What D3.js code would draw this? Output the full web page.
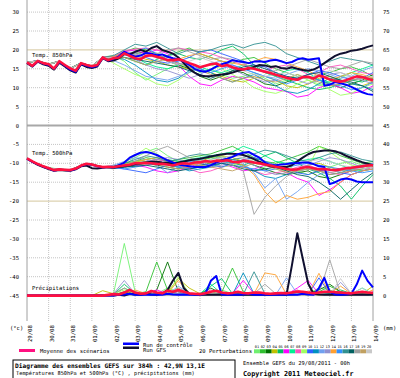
<!DOCTYPE html>
<html><head><meta charset="utf-8">
<script src="https://cdn.jsdelivr.net/npm/d3@7"></script>
<style>body{margin:0;background:#fff}svg{display:block}text{font-family:"DejaVu Sans Mono",monospace}</style>
</head><body>
<svg id="c" width="400" height="378"></svg>
<script>
// ---------- DATA ----------
const dates = ["29/08","30/08","31/08","01/09","02/09","03/09","04/09","05/09","06/09","07/09","08/09","09/09","10/09","11/09","12/09","13/09","14/09"];
const leftTicks = [30,25,20,15,10,5,0,-5,-10,-15,-20,-25,-30,-35,-40,-45];
const rightTicks = [75,70,65,60,55,50,45,40,35,30,25,20,15,10,5,0];
const pertNames = ["01","02","03","04","05","06","07","08","09","10","11","12","13","14","15","16","17","18","19","20"];
const pertColors = ["#70f070","#30c030","#007000","#c0c000","#00c060","#ff00ff","#00f090","#ff50c0","#a0ff60","#3060ff","#0090c0","#70a0f0","#9090d0","#ffa030","#3090ff","#309090","#006060","#a0a0a0","#c0a060","#c8c8c8"];

// 6-hourly main runs (h0..h384)
const t850Mean = [16.7,15.8,17.1,16.5,16.2,15.1,17.0,16.0,15.1,14.5,16.5,16.0,15.7,16.0,18.0,17.3,17.8,
 18.0,19.1,18.4,17.8,17.5,18.4,18.6,18.2,17.8,17.3,17.3,17.5,17.1,16.5,16.0,
 15.4,15.8,16.2,16.4,15.7,16.0,15.4,15.0,14.8,15.2,15.0,14.6,14.2,13.9,13.4,13.0,12.6,12.3,12.1,12.8,12.9,12.4,13.2,12.8,12.2,11.8,11.6,12.0,12.5,13.0,12.8,12.4,12.0];
const t850Gfs = [16.5,15.6,16.9,16.2,15.8,14.8,16.6,15.6,14.6,14.0,16.2,15.5,15.2,15.6,17.8,17.0,17.2,
 17.8,19.0,18.8,19.5,20.0,19.5,20.5,21.0,20.0,19.5,19.0,18.0,16.5,15.0,14.0,
 13.2,13.0,13.1,13.3,13.5,13.6,14.0,14.5,14.8,15.0,15.5,16.0,15.9,15.5,15.7,15.2,15.0,15.4,15.0,14.7,14.5,14.8,15.5,16.5,17.5,18.4,19.0,19.3,19.8,20.0,20.3,20.8,21.2];
const t850Ctrl = [16.6,15.7,17.0,16.4,16.0,15.0,16.8,15.8,14.8,14.2,16.3,15.8,15.4,15.8,17.9,17.2,17.6,
 18.3,19.5,18.8,18.2,18.5,19.2,19.0,18.6,18.8,18.2,17.8,17.5,17.0,16.0,15.0,
 14.4,14.2,14.8,15.6,16.2,16.6,17.3,17.0,16.8,16.5,16.9,17.0,16.8,17.2,17.4,17.0,16.5,16.8,17.5,17.8,17.4,17.6,17.8,10.5,10.8,11.5,11.2,10.8,10.2,9.5,8.8,8.3,8.1];

const t500Mean = [-8.7,-9.5,-10.2,-10.8,-11.3,-11.8,-11.6,-11.7,-11.8,-11.4,-10.6,-10.1,-10.3,-10.7,-11.0,-10.9,-11.0,
 -10.8,-10.6,-10.4,-10.0,-10.0,-9.9,-10.0,-10.2,-10.1,-10.3,-10.6,-10.2,-10.0,-10.1,-9.8,-9.7,
 -9.4,-9.6,-9.3,-9.4,-9.2,-9.6,-9.7,-9.3,-9.5,-9.8,-10.0,-10.3,-10.6,-10.9,-11.2,-11.5,-11.7,-11.6,-11.2,-11.0,-11.3,-11.6,-11.5,-11.7,-11.8,-11.6,-11.3,-11.2,-11.0,-10.8,-10.6,-10.5];
const t500Gfs = [-8.7,-9.6,-10.4,-11.0,-11.5,-12.0,-11.8,-11.9,-12.0,-11.6,-10.8,-10.6,-11.3,-11.4,-11.2,-11.0,-11.2,
 -11.0,-10.7,-10.5,-10.2,-10.0,-9.8,-9.6,-9.6,-9.8,-9.9,-10.0,-9.8,-9.5,-9.2,-9.0,
 -8.8,-8.5,-8.2,-7.9,-7.7,-7.5,-7.5,-7.6,-7.8,-8.3,-8.9,-9.6,-10.2,-10.8,-11.0,-11.0,-11.0,-10.5,-9.5,-8.5,-7.6,-7.0,-6.8,-6.6,-6.6,-6.8,-7.3,-8.0,-8.6,-9.2,-9.7,-10.1,-10.5];
const t500Ctrl = [-8.8,-9.6,-10.3,-10.9,-11.4,-11.9,-11.7,-11.8,-11.9,-11.5,-10.7,-10.2,-10.4,-10.8,-11.1,-11.0,-11.1,
 -10.5,-9.8,-8.5,-7.8,-7.2,-7.0,-7.3,-7.8,-8.5,-9.2,-9.8,-10.3,-10.6,-10.8,-11.0,
 -11.0,-11.0,-10.5,-9.8,-9.2,-8.8,-8.3,-7.6,-7.2,-7.0,-7.8,-8.5,-9.8,-10.5,-10.5,-10.3,-10.2,-10.0,-10.0,-9.8,-9.8,-10.2,-10.8,-11.0,-15.5,-15.0,-14.3,-14.0,-14.3,-14.8,-15.0,-15.0,-15.0];

const rrMean = [0,0,0,0,0,0,0,0,0,0,0,0,0,0,0,
 0.2,0.4,0.3,0.8,1.5,0.8,0.5,0.6,1.2,0.8,0.6,1.3,1.0,1.5,1.0,0.6,0.5,0.4,0.6,1.0,
 1.3,0.8,0.6,0.7,1.0,0.7,0.6,0.8,0.8,0.6,0.5,0.6,0.7,0.6,0.8,1.1,1.0,0.8,0.6,0.8,
 1.0,1.0,0.9,0.8,0.7,0.6,0.8,1.0,0.8,0.7];
const rrGfs = [0,0,0,0,0,0,0,0,0,0,0,0,0,0,0,
 0,0,0.2,0,0.5,0.3,0.2,0.5,0.3,0.2,0.5,1.5,4.0,6.0,2.0,0.5,0.3,0.2,0.3,0.2,
 0.2,0.3,0.2,0.2,0.3,0.2,0.2,0.3,0.2,0.2,0.2,0.3,0.3,0.2,8.0,16.5,9.8,3.2,0.5,0.3,
 0.2,0.3,0.2,0.3,0.2,0.3,0.2,0.3,0.2,0.3];
const rrCtrl = [0,0,0,0,0,0,0,0,0,0,0,0,0,0,0,
 0,0,0.2,0.3,0.5,0.2,0.3,0.2,0.2,0.3,0.2,0.5,0.3,0.2,0.3,0.2,0.3,0.2,0.5,3.9,
 5.2,0.3,0.2,0.3,0.2,0.3,0.5,0.2,0.3,0.2,0.3,0.2,0.3,0.2,0.3,0.2,0.5,0.3,0.2,2.0,
 4.7,1.0,0.3,0.2,0.3,0.5,3.0,6.6,3.9,2.2];

// 12-hourly perturbations (h0..h384)
const t850Pert = [
 [16.8,17.0,16.3,17.1,15.0,16.4,15.8,18.1,18.5,17.0,14.0,12.0,13.5,15.0,16.0,15.5,14.0,15.0,13.5,12.5,13.0,14.0,12.5,11.0,12.0,13.5,12.0,10.5,11.5,12.5,14.0,13.0,12.5],
 [16.6,17.2,16.2,16.9,15.2,16.6,15.6,17.9,18.2,19.5,20.5,20.0,19.0,18.5,19.5,20.5,19.0,18.0,17.0,16.5,17.5,18.0,16.5,15.0,14.0,13.0,12.5,13.5,14.0,15.0,15.5,14.5,13.0],
 [16.7,17.1,16.1,17.0,15.1,16.5,15.7,18.0,17.6,18.5,19.0,19.5,18.0,17.0,16.0,15.0,13.0,12.0,13.0,14.5,14.0,12.5,11.0,10.5,11.5,12.5,13.0,12.0,11.0,10.0,11.0,12.0,13.5],
 [16.7,17.0,16.3,17.0,15.1,16.5,15.8,18.0,17.8,19.0,18.5,17.5,17.0,16.0,15.5,15.0,14.5,14.0,13.0,12.0,11.5,12.5,13.0,12.0,10.5,10.0,11.0,12.5,13.0,12.0,11.0,10.5,11.5],
 [16.7,17.1,16.2,17.0,15.1,16.5,15.7,18.0,17.5,18.0,17.0,16.0,17.5,18.5,19.0,18.0,17.5,18.5,20.0,21.0,19.0,16.0,14.0,13.0,12.0,11.0,10.0,9.5,10.0,11.0,12.0,11.5,12.5],
 [16.8,17.1,16.2,17.1,15.0,16.5,15.7,18.1,18.0,19.5,20.0,19.0,20.0,19.0,16.0,13.0,11.0,10.5,12.0,13.0,12.5,11.5,10.0,9.5,9.0,7.5,8.0,10.0,11.0,10.0,8.5,9.0,10.5],
 [16.7,17.1,16.2,17.0,15.1,16.5,15.7,18.0,18.0,19.0,18.0,16.5,15.5,15.0,16.0,16.5,15.5,14.5,14.0,15.0,16.0,15.5,14.0,13.0,14.5,15.0,14.0,12.0,11.5,13.0,14.0,15.0,16.0],
 [16.6,17.1,16.2,17.0,15.1,16.5,15.7,18.0,18.3,19.8,20.2,20.5,20.0,19.5,20.5,20.0,19.5,19.0,18.0,17.0,16.0,15.0,14.5,15.5,16.0,15.0,13.5,14.0,15.5,16.0,15.0,14.0,13.5],
 [16.7,17.1,16.2,17.0,15.2,16.5,15.7,18.0,16.5,15.0,13.5,12.5,11.0,10.5,12.0,14.0,15.5,16.0,15.0,13.5,12.0,10.0,9.0,8.5,9.5,11.0,12.0,11.0,9.5,8.0,8.5,10.0,11.0],
 [16.7,17.1,16.2,17.0,15.1,16.5,15.7,18.0,17.5,18.5,19.0,18.0,17.0,16.5,17.0,18.0,19.5,20.0,19.0,18.0,17.0,16.0,15.5,14.0,13.0,12.5,13.5,14.5,14.0,13.0,12.0,12.5,14.0],
 [16.7,17.1,16.2,17.0,15.1,16.5,15.7,18.0,18.0,17.5,16.0,14.0,12.0,11.5,12.5,14.5,15.0,14.0,12.5,11.5,12.5,13.5,12.0,10.5,9.0,8.5,9.5,11.0,12.5,12.0,11.0,10.5,9.5],
 [16.7,17.1,16.2,17.0,15.1,16.5,15.7,18.0,17.2,16.0,14.5,13.0,12.5,12.0,13.0,14.0,15.0,16.5,17.0,16.0,15.0,14.0,13.0,12.5,13.5,14.5,15.0,14.5,13.5,12.5,13.0,14.5,15.5],
 [16.7,17.1,16.2,17.0,15.1,16.5,15.7,18.0,18.0,19.0,17.5,16.0,15.0,14.5,13.5,12.5,13.5,15.0,16.0,15.0,13.5,12.5,11.5,12.0,13.0,12.0,11.0,12.0,13.5,14.0,13.0,12.0,11.0],
 [16.7,17.1,16.2,17.0,15.1,16.5,15.7,18.0,18.2,19.2,18.5,19.0,18.5,18.0,17.5,18.5,19.0,18.0,17.0,16.5,16.0,17.0,18.0,17.5,16.5,15.5,14.5,13.0,12.0,13.0,14.0,13.5,12.5],
 [16.7,17.1,16.2,17.0,15.1,16.5,15.7,18.0,17.8,18.8,19.5,20.5,19.0,17.5,16.5,16.0,15.0,14.0,15.0,16.0,15.0,14.0,13.0,12.0,11.0,12.0,13.0,12.0,11.0,10.5,9.5,10.0,11.5],
 [16.7,17.1,16.2,17.0,15.1,16.5,15.7,18.0,18.5,20.0,21.5,21.0,22.0,20.5,19.0,20.0,19.5,20.0,21.0,21.5,20.5,21.5,22.0,21.0,19.0,18.0,17.0,16.0,17.0,18.0,17.5,17.0,16.0],
 [16.7,17.1,16.2,17.0,15.1,16.5,15.7,18.0,17.6,18.0,17.5,17.0,16.5,16.0,15.5,14.5,13.5,12.5,13.5,14.5,15.5,16.0,15.0,14.0,13.0,12.5,13.5,14.0,13.0,12.0,11.5,10.5,9.0],
 [16.7,17.1,16.2,17.0,15.1,16.5,15.7,18.0,18.0,19.0,19.5,18.5,19.0,20.0,20.5,19.5,18.5,17.5,18.0,17.5,16.5,15.0,14.0,14.5,15.5,16.5,17.5,16.5,15.5,15.0,16.0,17.0,16.5],
 [16.7,17.1,16.2,17.0,15.1,16.5,15.7,18.0,17.5,18.0,17.0,16.0,17.0,17.5,16.5,15.5,14.5,13.5,12.5,11.5,12.5,13.0,12.0,11.5,12.5,13.5,12.5,11.5,10.5,11.0,12.0,12.5,11.5],
 [16.7,17.1,16.2,17.0,15.1,16.5,15.7,18.0,18.0,18.5,19.0,18.5,18.0,17.0,16.0,17.0,18.0,17.0,16.0,15.5,14.5,13.5,13.0,13.5,14.0,13.0,12.5,13.5,14.5,14.0,13.0,12.5,13.0]
];
const t500Pert = [
 [-8.7,-10.2,-11.4,-11.7,-11.9,-10.7,-10.4,-11.1,-11.3,-10.5,-8.5,-7.0,-6.0,-8.0,-9.5,-10.5,-10.0,-9.0,-8.0,-9.5,-11.0,-12.0,-11.0,-9.5,-10.5,-12.0,-13.0,-12.0,-11.0,-10.0,-9.5,-10.5,-11.0],
 [-8.7,-10.1,-11.2,-11.5,-11.7,-10.5,-10.2,-10.9,-10.8,-10.0,-9.5,-8.5,-9.0,-9.5,-9.0,-8.5,-8.0,-7.5,-6.5,-5.5,-7.0,-8.5,-9.5,-10.0,-9.0,-8.0,-7.0,-5.5,-6.5,-8.0,-9.0,-10.0,-9.5],
 [-8.7,-10.2,-11.3,-11.6,-11.8,-10.6,-10.3,-11.0,-11.2,-11.0,-10.5,-10.0,-10.5,-11.0,-11.5,-11.0,-10.5,-10.0,-9.5,-9.0,-9.5,-10.5,-11.5,-12.5,-13.0,-12.5,-12.0,-13.5,-14.0,-13.0,-12.0,-11.5,-11.0],
 [-8.7,-10.2,-11.3,-11.6,-11.8,-10.6,-10.3,-11.0,-10.8,-10.2,-9.8,-9.0,-9.5,-10.5,-11.0,-10.5,-9.5,-8.5,-8.0,-8.5,-9.5,-10.0,-10.5,-11.0,-12.0,-11.5,-10.5,-10.0,-11.0,-12.0,-11.5,-10.5,-10.0],
 [-8.7,-10.2,-11.3,-11.6,-11.8,-10.6,-10.3,-11.0,-11.0,-10.5,-10.0,-9.5,-10.0,-10.5,-11.0,-10.0,-9.0,-8.5,-9.0,-10.0,-10.5,-9.5,-8.0,-7.0,-8.5,-10.0,-11.5,-12.5,-14.0,-16.0,-19.5,-16.0,-13.0],
 [-8.7,-10.2,-11.3,-11.6,-11.8,-10.6,-10.3,-11.0,-11.1,-10.8,-10.5,-11.0,-12.0,-12.5,-12.0,-11.0,-10.0,-9.5,-10.0,-11.0,-12.0,-11.5,-10.5,-11.0,-12.5,-14.0,-15.0,-18.5,-17.0,-15.0,-13.0,-12.0,-11.0],
 [-8.7,-10.2,-11.3,-11.6,-11.8,-10.6,-10.3,-11.0,-10.8,-10.2,-9.5,-9.0,-8.5,-9.0,-9.5,-9.0,-8.5,-8.0,-7.5,-7.0,-5.5,-6.5,-8.0,-9.5,-10.0,-9.5,-9.0,-8.5,-9.5,-10.5,-11.5,-12.0,-11.5],
 [-8.7,-10.2,-11.3,-11.6,-11.8,-10.6,-10.3,-11.0,-11.0,-10.8,-10.3,-9.5,-9.0,-9.5,-10.5,-11.5,-12.5,-12.0,-11.0,-10.5,-11.0,-12.0,-13.0,-12.5,-12.0,-11.0,-10.5,-11.5,-12.5,-13.0,-12.0,-11.0,-10.5],
 [-8.7,-10.2,-11.3,-11.6,-11.8,-10.6,-10.3,-11.0,-11.5,-10.0,-8.0,-6.0,-7.5,-9.5,-10.0,-9.5,-9.0,-10.0,-11.0,-10.5,-9.5,-9.0,-10.0,-11.5,-12.0,-11.5,-11.0,-5.5,-7.0,-9.0,-10.5,-11.0,-10.5],
 [-8.7,-10.2,-11.3,-11.6,-11.8,-10.6,-10.3,-11.0,-11.0,-11.5,-12.0,-12.5,-11.5,-10.5,-10.0,-9.5,-10.0,-10.5,-11.0,-10.0,-9.0,-8.5,-9.5,-10.5,-11.5,-12.5,-13.0,-12.0,-11.5,-12.5,-13.0,-12.0,-11.5],
 [-8.7,-10.2,-11.3,-11.6,-11.8,-10.6,-10.3,-11.0,-11.3,-11.0,-10.5,-10.0,-9.5,-10.0,-11.0,-12.0,-11.5,-11.0,-10.0,-9.5,-10.5,-12.0,-13.5,-14.0,-13.0,-12.0,-11.5,-12.0,-13.0,-12.5,-11.5,-11.0,-10.0],
 [-8.7,-10.2,-11.3,-11.6,-11.8,-10.6,-10.3,-11.0,-10.5,-9.5,-8.5,-9.0,-10.5,-12.5,-11.0,-9.5,-9.0,-9.5,-10.0,-9.0,-10.0,-12.5,-16.5,-14.0,-19.5,-17.5,-15.0,-13.0,-12.0,-11.5,-11.0,-10.5,-10.0],
 [-8.7,-10.2,-11.3,-11.6,-11.8,-10.6,-10.3,-11.0,-11.0,-10.5,-10.0,-9.5,-9.0,-8.5,-9.0,-10.0,-10.5,-11.0,-10.5,-10.0,-9.5,-10.5,-12.0,-13.0,-12.5,-11.5,-10.5,-9.5,-8.5,-9.0,-10.0,-11.0,-10.5],
 [-8.7,-10.2,-11.3,-11.6,-11.8,-10.6,-10.3,-11.0,-10.9,-10.2,-9.6,-9.0,-8.5,-9.0,-10.0,-10.5,-10.0,-9.5,-9.0,-9.5,-10.5,-13.0,-17.5,-20.5,-18.5,-19.5,-19.0,-18.0,-17.5,-15.0,-13.0,-12.0,-11.5],
 [-8.7,-10.2,-11.3,-11.6,-11.8,-10.6,-10.3,-11.0,-11.2,-11.5,-11.0,-10.5,-10.0,-10.5,-11.0,-11.5,-11.0,-10.5,-10.0,-10.5,-11.0,-11.5,-12.0,-11.5,-11.0,-10.5,-10.0,-10.5,-11.0,-11.5,-12.0,-12.5,-12.0],
 [-8.7,-10.2,-11.3,-11.6,-11.8,-10.6,-10.3,-11.0,-10.8,-10.0,-9.0,-8.0,-8.5,-9.5,-9.0,-8.0,-7.5,-8.0,-8.5,-9.0,-8.5,-7.5,-6.5,-7.0,-8.0,-9.0,-9.5,-8.5,-7.5,-7.0,-8.0,-9.0,-9.5],
 [-8.7,-10.2,-11.3,-11.6,-11.8,-10.6,-10.3,-11.0,-11.1,-11.0,-10.8,-10.5,-11.0,-11.5,-12.0,-11.5,-11.0,-10.5,-10.0,-10.5,-11.5,-12.0,-11.5,-11.0,-12.0,-13.0,-13.5,-15.0,-17.0,-19.5,-17.0,-14.5,-12.5],
 [-8.7,-10.2,-11.3,-11.6,-11.8,-10.6,-10.3,-11.0,-11.0,-10.5,-9.5,-8.0,-6.5,-5.5,-7.0,-8.5,-9.5,-10.0,-9.5,-10.5,-12.0,-23.5,-19.0,-16.0,-13.5,-12.0,-11.5,-12.0,-12.5,-12.0,-11.5,-11.0,-10.5],
 [-8.7,-10.2,-11.3,-11.6,-11.8,-10.6,-10.3,-11.0,-10.9,-10.6,-10.0,-9.5,-10.0,-11.0,-11.5,-11.0,-10.5,-11.0,-11.5,-12.0,-11.0,-10.0,-10.5,-11.5,-12.5,-12.0,-11.5,-12.0,-13.0,-12.5,-12.0,-11.5,-11.0],
 [-8.7,-10.2,-11.3,-11.6,-11.8,-10.6,-10.3,-11.0,-11.0,-10.7,-10.2,-9.8,-10.2,-10.6,-10.4,-10.0,-9.5,-9.0,-8.5,-8.0,-8.5,-9.5,-10.5,-11.0,-10.5,-10.0,-9.5,-9.0,-9.5,-10.5,-11.0,-11.5,-11.0]
];
const rrPert = [
 [0,0,0,0,0,0,0,0,0.5,13.8,1.0,0.3,0.5,2.0,1.0,0.5,0.3,0.5,1.5,0.5,0.2,0.3,0.5,0.2,0.5,1.0,0.5,2.0,1.5,0.5,0.3,0.5,0.3],
 [0,0,0,0,0,0,0,0,0.3,2.0,0.5,1.0,8.9,1.5,0.5,0.3,0.2,0.5,0.8,7.3,1.0,0.3,0.5,0.2,0.3,0.5,0.2,1.0,2.5,1.0,0.5,0.3,0.2],
 [0,0,0,0,0,0,0,0,0.2,1.0,0.5,0.3,1.5,8.9,1.0,0.2,0.5,2.0,0.5,0.3,0.2,0.3,0.5,0.2,0.2,0.3,0.5,1.5,3.0,1.0,0.5,0.3,0.2],
 [0,0,0,0,0,0,0,1.3,0.5,0.3,0.5,0.3,0.5,1.0,4.5,2.0,0.5,0.3,0.5,0.2,0.3,0.5,0.2,0.3,0.2,0.3,0.5,0.2,0.5,0.3,0.2,0.5,2.5],
 [0,0,0,0,0,0,0,0.2,0.3,3.0,0.5,0.3,0.5,0.3,0.5,0.3,0.2,2.5,4.5,0.5,0.3,0.2,0.5,0.3,0.2,0.5,0.3,0.5,0.3,1.5,0.5,0.3,0.5],
 [0,0,0,0,0,0,0,0,0.2,0.5,0.3,0.5,1.5,0.5,0.3,0.5,0.3,0.5,0.3,0.5,4.0,0.5,0.3,0.2,0.3,2.0,4.0,0.5,0.3,0.5,0.3,0.2,0.5],
 [0,0,0,0,0,0,0,0,0.2,0.3,0.5,0.3,0.5,0.3,0.5,0.3,0.5,3.0,0.5,0.3,0.2,0.3,0.5,0.3,0.2,0.3,0.5,0.3,0.5,0.3,0.5,2.0,0.5],
 [0,0,0,0,0,0,0,0,0.3,0.5,0.3,0.5,0.3,0.5,1.0,0.5,0.3,1.5,0.5,0.3,0.5,0.3,0.2,0.3,0.5,1.5,0.3,0.5,0.3,0.5,0.3,0.5,1.0],
 [0,0,0,0,0,0,0,0,0.5,1.5,0.5,0.3,0.5,0.3,5.0,0.5,0.3,0.5,0.3,0.5,0.3,0.5,0.3,0.2,0.3,0.5,0.3,0.5,0.3,0.5,0.3,0.5,0.3],
 [0,0,0,0,0,0,0,0,0.2,0.5,0.3,0.5,0.3,0.5,0.3,0.5,0.3,0.5,0.3,0.2,0.3,0.5,0.3,0.5,1.0,0.5,0.3,4.7,0.5,0.3,0.5,0.3,0.2],
 [0,0,0,0,0,0,0,0,0.3,0.5,0.3,0.5,0.3,1.0,0.5,0.3,0.5,0.3,0.5,0.3,6.0,0.5,0.3,0.2,0.3,0.5,0.3,0.5,0.3,0.5,0.3,0.5,0.3],
 [0,0,0,0,0,0,0,0,0.2,0.3,0.5,0.3,0.5,0.3,2.5,0.5,0.3,0.5,0.3,0.2,0.5,0.3,0.5,0.2,4.7,0.5,0.3,0.5,0.3,0.2,0.5,0.3,0.2],
 [0,0,0,0,0,0,0,0,0.5,4.0,0.5,0.3,0.5,0.3,0.5,0.3,0.3,0.5,0.3,0.5,0.3,0.2,0.3,0.5,0.3,0.5,0.3,0.5,0.3,3.5,0.5,0.3,0.5],
 [0,0,0,0,0,0,0,0,0.2,0.3,1.5,0.5,0.3,0.5,4.0,0.5,0.3,0.5,0.3,0.5,0.3,0.5,6.0,5.5,0.3,0.5,0.3,5.9,0.5,2.5,0.5,0.3,1.5],
 [0,0,0,0,0,0,0,0,0.3,0.5,0.3,0.5,0.3,0.5,0.3,0.5,0.3,0.5,0.3,0.5,0.3,0.5,0.3,0.5,0.3,0.5,0.3,0.5,0.3,0.5,0.3,0.5,0.3],
 [0,0,0,0,0,0,0,0,0.3,0.5,0.3,0.5,0.3,0.5,0.3,0.5,0.3,0.5,0.3,0.5,0.3,6.3,0.5,0.3,0.5,0.3,0.5,0.3,0.5,0.3,0.5,0.3,0.5],
 [0,0,0,0,0,0,0,0,0.3,0.5,0.3,0.5,0.3,0.5,0.3,0.5,0.3,0.5,0.3,0.5,0.3,0.5,0.3,0.5,0.3,0.5,0.3,0.5,0.3,0.5,0.3,0.5,0.3],
 [0,0,0,0,0,0,0,0,0.5,2.0,0.5,0.3,0.5,0.3,0.5,0.3,0.3,0.5,0.3,0.5,0.3,0.5,3.0,0.5,0.3,0.5,0.3,0.5,9.5,0.5,0.3,0.5,0.3],
 [0,0,0,0,0,0,0,0,0.2,0.3,0.5,0.3,0.5,0.3,2.0,0.5,0.3,0.5,0.3,0.5,0.3,0.5,0.3,0.5,0.3,0.5,0.3,0.5,0.3,0.5,0.3,0.5,0.3],
 [0,0,0,0,0,0,0,0,0.3,0.5,0.3,0.5,0.3,0.5,0.3,0.5,0.3,0.5,0.3,0.5,0.3,0.5,0.3,0.5,0.3,0.5,0.3,0.5,0.3,4.5,0.5,2.0,0.3]
];

// ---------- DRAWING ----------
const svg = d3.select("#c");
const x = d3.scaleLinear().domain([0,384]).range([27,373]);
const y = d3.scaleLinear().domain([30,-45]).range([12.1,295.6]);
const mainStep = 6, pertStep = 12, rrOffset = -45;
const mkLine = (step, off) => d3.line().x((d,i)=>x(i*step)).y(d=>y(d+off));

// grid
const gH = svg.append("g");
leftTicks.forEach(v=>{
  const ln = gH.append("line").attr("x1",x(0)).attr("x2",x(384)).attr("y1",y(v)).attr("y2",y(v));
  if (v===0) ln.attr("stroke","#a8a8a8").attr("stroke-width",2);
  else if (v===20||v===-20) ln.attr("stroke","#d4c69c").attr("stroke-width",1);
  else if (v===-45) ln.attr("stroke","#b0b0b0").attr("stroke-width",1);
  else ln.attr("stroke","#c4c4c4").attr("stroke-width",1).attr("stroke-dasharray","1,1");
});
dates.forEach((d,i)=>{
  const xx = x(i*24);
  const edge = (i===0||i===dates.length-1);
  svg.append("line").attr("x1",xx).attr("x2",xx).attr("y1",0).attr("y2",321)
    .attr("stroke", edge?"#a0a0a0":"#c4c4c4").attr("stroke-width",1)
    .attr("stroke-dasharray", edge?null:"1,1");
  svg.append("text").attr("transform",`translate(${xx+5},342) rotate(-90)`)
    .attr("font-size",5.6).attr("fill","#000").text(d);
});

// axis labels
leftTicks.forEach(v=>{
  svg.append("text").attr("x",19).attr("y",y(v)+2).attr("text-anchor","end")
    .attr("font-size",5.5).attr("fill","#000").text(v);
});
rightTicks.forEach(v=>{
  svg.append("text").attr("x",383).attr("y",y(v-45)+2)
    .attr("font-size",5.5).attr("fill","#000").text(v);
});
svg.append("text").attr("x",10).attr("y",330).attr("font-size",5.5).text("(°c)");
svg.append("text").attr("x",383).attr("y",330).attr("font-size",5.5).text("(mm)");

// panel labels
[["Temp. 850hPa",57],["Temp. 500hPa",155],["Précipitations",290]].forEach(([t,yy])=>{
  svg.append("text").attr("x",32).attr("y",yy).attr("font-size",5.6).attr("fill","#000").text(t);
});

// perturbations
const gP = svg.append("g").attr("fill","none").attr("stroke-width",0.9);
[[t850Pert,0],[t500Pert,0],[rrPert,rrOffset]].forEach(([set,off])=>{
  set.forEach((s,k)=>{
    gP.append("path").attr("d",mkLine(pertStep,off)(s)).attr("stroke",pertColors[k]);
  });
});
// main runs
const gM = svg.append("g").attr("fill","none").attr("stroke-linejoin","round");
[[t850Gfs,0],[t500Gfs,0],[rrGfs,rrOffset]].forEach(([s,off])=>
  gM.append("path").attr("d",mkLine(mainStep,off)(s)).attr("stroke","#101030").attr("stroke-width",2));
[[t850Ctrl,0],[t500Ctrl,0],[rrCtrl,rrOffset]].forEach(([s,off])=>
  gM.append("path").attr("d",mkLine(mainStep,off)(s)).attr("stroke","#0000ff").attr("stroke-width",2));
[[t850Mean,0],[t500Mean,0],[rrMean,rrOffset]].forEach(([s,off])=>
  gM.append("path").attr("d",mkLine(mainStep,off)(s)).attr("stroke","#ff1040").attr("stroke-width",2.6));

// legend
svg.append("rect").attr("x",19).attr("y",349).attr("width",16).attr("height",3).attr("fill","#ff1080");
svg.append("text").attr("x",40).attr("y",353).attr("font-size",5.5).text("Moyenne des scénarios");
svg.append("rect").attr("x",123).attr("y",342.5).attr("width",16).attr("height",2.5).attr("fill","#0000ff");
svg.append("rect").attr("x",123).attr("y",346.5).attr("width",16).attr("height",2.5).attr("fill","#101030");
svg.append("text").attr("x",143).attr("y",346.5).attr("font-size",5.5).text("Run de contrôle");
svg.append("text").attr("x",143).attr("y",351.5).attr("font-size",5.5).text("Run GFS");
svg.append("text").attr("x",199).attr("y",353).attr("font-size",5.5).text("20 Perturbations");
const lx = d3.scaleBand().domain(pertNames).range([254,372]);
pertNames.forEach((n,k)=>{
  svg.append("rect").attr("x",lx(n)).attr("y",349.3).attr("width",lx.bandwidth()).attr("height",4).attr("fill",pertColors[k]);
  svg.append("text").attr("x",lx(n)+lx.bandwidth()/2).attr("y",348).attr("text-anchor","middle")
    .attr("font-size",3.6).text(n);
});

// title box
svg.append("rect").attr("x",13).attr("y",360).attr("width",222).attr("height",22).attr("fill","none").attr("stroke","#000").attr("stroke-width",1);
svg.append("text").attr("x",15).attr("y",367.5).attr("font-size",6.2).attr("font-weight","bold")
  .text("Diagramme des ensembles GEFS sur 384h : 42,9N 13,1E");
svg.append("text").attr("x",16).attr("y",374.5).attr("font-size",5.3)
  .text("Températures 850hPa et 500hPa (°C) , précipitations (mm)");
svg.append("text").attr("x",243).attr("y",365).attr("font-size",5.4)
  .text("Ensemble GEFS du 29/08/2011 - 00h");
svg.append("text").attr("x",243).attr("y",375.5).attr("font-size",6.8).attr("font-weight","bold")
  .text("Copyright 2011 Meteociel.fr");
</script>
</body></html>
